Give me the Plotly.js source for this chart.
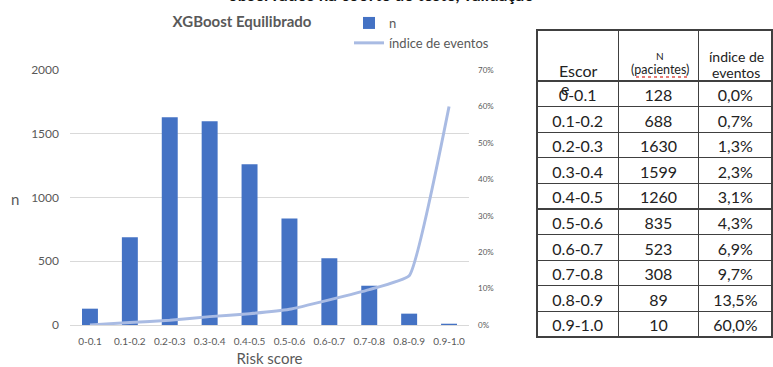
<!DOCTYPE html>
<html>
<head>
<meta charset="utf-8">
<script src="https://cdn.plot.ly/plotly-3.0.1.min.js"></script>
<style>
  html, body { margin: 0; padding: 0; background: #ffffff; }
  #chart { width: 773px; height: 367px; }
</style>
</head>
<body>
<div id="chart"></div>
<script>
// Risk score bins
const categories = ['0-0.1', '0.1-0.2', '0.2-0.3', '0.3-0.4', '0.4-0.5',
                    '0.5-0.6', '0.6-0.7', '0.7-0.8', '0.8-0.9', '0.9-1.0'];
// Number of patients per bin
const patients = [128, 688, 1630, 1599, 1260, 835, 523, 308, 89, 10];
// Observed event rate per bin (%)
const eventRate = [0.0, 0.7, 1.3, 2.3, 3.1, 4.3, 6.9, 9.7, 13.5, 60.0];
// Axis ticks
const countTicks = [0, 500, 1000, 1500, 2000];
const rateTicks = [0, 10, 20, 30, 40, 50, 60, 70];

const W = 773, H = 367;
const fx = px => px / W;
const fy = py => 1 - py / H;

const grey = '#595959';
const ink = '#222222';
const fontFamily = 'Lato, "Open Sans", sans-serif';
const pctComma = v => v.toFixed(1).replace('.', ',') + '%';

const barTrace = {
  type: 'bar',
  name: 'n',
  x: categories,
  y: patients,
  marker: { color: '#4472c4' },
  legendgroup: 'a',
  hoverinfo: 'skip'
};

const lineTrace = {
  type: 'scatter',
  mode: 'lines',
  name: 'índice de eventos',
  x: categories,
  y: eventRate.map(v => v / 100),
  yaxis: 'y2',
  line: { color: '#a9bbe3', width: 3, shape: 'spline', smoothing: 0.35 },
  legendgroup: 'b',
  hoverinfo: 'skip'
};

// Table: header cells are drawn empty, their labels are placed as annotations below
const tableTrace = {
  type: 'table',
  domain: { x: [fx(537), 1], y: [0, fy(30)] },
  columnwidth: [82, 81, 74],
  header: {
    values: [[''], [''], ['']],
    height: 51,
    line: { color: '#404040', width: 1.2 },
    fill: { color: '#ffffff' }
  },
  cells: {
    values: [categories, patients.map(String), eventRate.map(pctComma)],
    height: 25.6,
    align: 'center',
    line: { color: '#404040', width: 1.2 },
    fill: { color: '#ffffff' },
    font: { family: fontFamily, size: 16, color: ink }
  }
};

function label(text, x, y, size, color) {
  return {
    text: text, xref: 'paper', yref: 'paper',
    x: fx(x), xanchor: 'center', y: fy(y), yanchor: 'middle',
    showarrow: false,
    font: { family: fontFamily, size: size, color: color }
  };
}

const layout = {
  width: W,
  height: H,
  margin: { l: 0, r: 0, t: 0, b: 0 },
  paper_bgcolor: '#ffffff',
  plot_bgcolor: '#ffffff',
  font: { family: fontFamily, color: grey },
  bargap: 0.6,
  title: {
    text: 'XGBoost Equilibrado',
    x: fx(242), xanchor: 'center',
    y: fy(22), yanchor: 'middle',
    font: { family: fontFamily, size: 15, color: grey, weight: 'bold' }
  },
  xaxis: {
    domain: [fx(70), fx(469)],
    type: 'category',
    showline: true, linecolor: '#d9d9d9', linewidth: 1,
    ticks: '',
    ticklabelstandoff: 7,
    tickfont: { size: 10, color: grey },
    title: { text: 'Risk score', font: { size: 15, color: grey }, standoff: 13 },
    automargin: false
  },
  yaxis: {
    domain: [fy(325), fy(70)],
    range: [0, 2000],
    tickvals: countTicks,
    showgrid: true, gridcolor: '#d9d9d9', gridwidth: 1,
    zeroline: false,
    ticks: '',
    ticklabelstandoff: 10,
    tickfont: { size: 12, color: grey },
    automargin: false
  },
  yaxis2: {
    overlaying: 'y',
    side: 'right',
    range: [0, 0.7],
    tickvals: rateTicks.map(v => v / 100),
    ticktext: rateTicks.map(v => v + '%'),
    showgrid: false,
    zeroline: false,
    ticks: '',
    ticklabelstandoff: 8,
    tickfont: { size: 8, color: grey },
    automargin: false
  },
  legend: {
    x: fx(349), xanchor: 'left',
    y: fy(8), yanchor: 'top',
    bgcolor: 'rgba(0,0,0,0)',
    font: { size: 13, color: grey },
    tracegroupgap: 11,
    traceorder: 'normal'
  },
  shapes: [
    // spell-check squiggle under "(pacientes)"
    {
      type: 'line', xref: 'paper', yref: 'paper',
      x0: fx(636), x1: fx(687), y0: fy(77), y1: fy(77),
      line: { color: '#e0504a', width: 1.5, dash: 'dot' }
    }
  ],
  annotations: [
    label('<b>observados na coorte de teste, validação</b>', 381, -5, 17, '#111111'),
    label('n', 15, 199, 15, grey),
    label('Escor', 578, 70, 16, ink),
    label('e', 565, 88, 16, ink),
    label('N', 660, 56, 10, ink),
    label('(pacientes)', 660, 69, 12.5, ink),
    label('índice de', 736, 57, 14, ink),
    label('eventos', 736, 72, 14, ink)
  ]
};

Plotly.newPlot('chart', [barTrace, lineTrace, tableTrace], layout,
  { displayModeBar: false, staticPlot: true });
</script>
</body>
</html>
